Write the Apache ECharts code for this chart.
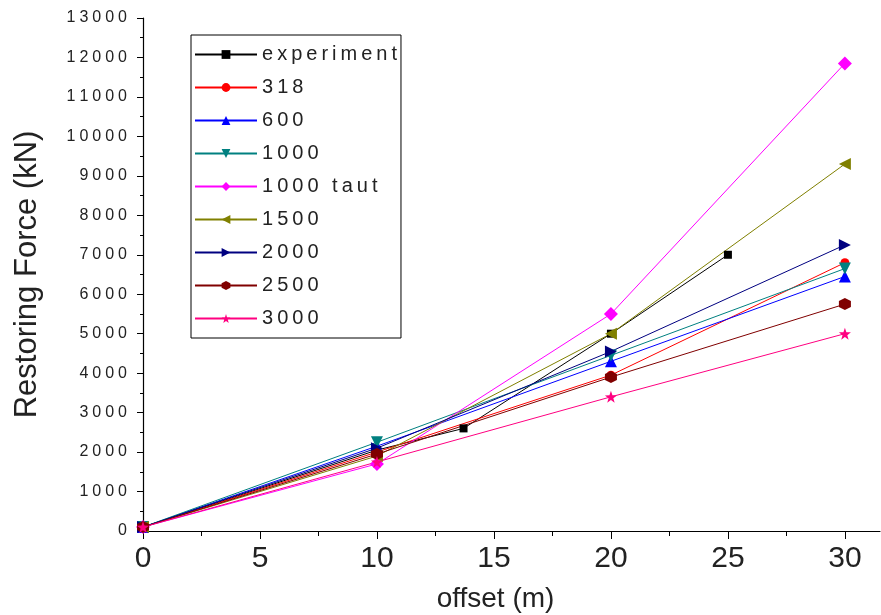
<!DOCTYPE html>
<html>
<head>
<meta charset="utf-8">
<script src="https://cdn.jsdelivr.net/npm/echarts@6/dist/echarts.min.js"></script>
<style>
  html, body { margin: 0; padding: 0; background: #fff; }
  #chart { width: 881px; height: 615px; }
</style>
</head>
<body>
<div id="chart"></div>
<script>
// Offsets (m) at which the model cases were evaluated
const offsets = [0, 10, 20, 30];

// Measured restoring force
const expOffsets = [0, 10, 13.7, 20, 25];
const expForce = [100, 2050, 2600, 5000, 7000];

// Restoring force (kN) for each case
const force318 = [100, 2000, 3950, 6800];
const force600 = [100, 2150, 4300, 6450];
const force1000 = [100, 2250, 4450, 6650];
const force1000Taut = [100, 1700, 5500, 11850];
const force1500 = [100, 1900, 5000, 9300];
const force2000 = [100, 2100, 4550, 7250];
const force2500 = [100, 1950, 3900, 5750];
const force3000 = [100, 1750, 3400, 5000];

const seriesNames = ['experiment', '318', '600', '1000', '1000 taut', '1500', '2000', '2500', '3000'];
const xTickValues = [0, 5, 10, 15, 20, 25, 30];
const xMinorTickValues = [2.5, 7.5, 12.5, 17.5, 22.5, 27.5];

const hexagon = 'path://M0,-10L8.66,-5L8.66,5L0,10L-8.66,5L-8.66,-5Z';
const star = 'path://M0,-10L2.35,-3.24L9.51,-3.09L3.8,1.24L5.88,8.09L0,4L-5.88,8.09L-3.8,1.24L-9.51,-3.09L-2.35,-3.24Z';

function pairs(xs, ys) { return xs.map((x, i) => [x, ys[i]]); }

const styles = [
  { color: '#000000', symbol: 'rect', size: 8, rotate: 0 },
  { color: '#FF0000', symbol: 'circle', size: 9, rotate: 0 },
  { color: '#0000FF', symbol: 'triangle', size: 12, rotate: 0 },
  { color: '#008080', symbol: 'triangle', size: 12, rotate: 180 },
  { color: '#FF00FF', symbol: 'diamond', size: 14, rotate: 0 },
  { color: '#808000', symbol: 'triangle', size: 12, rotate: 90 },
  { color: '#000080', symbol: 'triangle', size: 12, rotate: -90 },
  { color: '#800000', symbol: hexagon, size: 12, rotate: 0 },
  { color: '#FF0080', symbol: star, size: 12, rotate: 0 }
];

const dataSets = [
  pairs(expOffsets, expForce),
  pairs(offsets, force318),
  pairs(offsets, force600),
  pairs(offsets, force1000),
  pairs(offsets, force1000Taut),
  pairs(offsets, force1500),
  pairs(offsets, force2000),
  pairs(offsets, force2500),
  pairs(offsets, force3000)
];

const spaced = (s, gap) => String(s).split('').join(gap);
const black = '#000';
const font = 'Liberation Sans, Arial, sans-serif';

const chart = echarts.init(document.getElementById('chart'));
chart.setOption({
  animation: false,
  backgroundColor: '#fff',
  grid: { left: 143, top: 18, right: 1, bottom: 84, containLabel: false, outerBoundsMode: 'none' },
  legend: {
    orient: 'vertical',
    left: 191,
    top: 35,
    padding: [8, 4, 8, 3],
    itemGap: 10,
    itemWidth: 62,
    itemHeight: 11,
    borderColor: black,
    borderWidth: 1,
    backgroundColor: '#fff',
    data: seriesNames,
    formatter: name => spaced(name, '\u2009'),
    textStyle: { fontFamily: font, fontSize: 20, color: '#222', lineHeight: 23 }
  },
  xAxis: [
    {
      type: 'value', min: 0, max: 31.5, interval: 5,
      name: 'offset (m)', nameLocation: 'middle', nameGap: 54,
      nameTextStyle: { fontFamily: font, fontSize: 28, color: '#222', padding: [0, 32, 0, 0] },
      axisLine: { lineStyle: { color: black, width: 1.2 } },
      axisTick: { show: true, inside: false, length: 8, customValues: xTickValues, lineStyle: { color: black } },
      axisLabel: { customValues: xTickValues, margin: 13, fontFamily: font, fontSize: 30, color: '#222' },
      splitLine: { show: false }
    },
    {
      type: 'value', min: 0, max: 31.5, interval: 5, position: 'bottom',
      axisLine: { show: false },
      axisTick: { show: true, inside: false, length: 5, customValues: xMinorTickValues, lineStyle: { color: black } },
      axisLabel: { show: false },
      splitLine: { show: false }
    }
  ],
  yAxis: {
    type: 'value', min: 0, max: 13000, interval: 1000,
    name: 'Restoring Force (kN)', nameLocation: 'middle', nameGap: 100,
    nameTextStyle: { fontFamily: font, fontSize: 31, color: '#222' },
    axisLine: { show: true, lineStyle: { color: black, width: 1.2 } },
    axisTick: { show: true, inside: false, length: 6, lineStyle: { color: black } },
    minorTick: { show: true, splitNumber: 2, length: 3, lineStyle: { color: black } },
    axisLabel: { margin: 16, formatter: v => spaced(v, '\u2005'), fontFamily: font, fontSize: 16, color: '#222' },
    splitLine: { show: false }
  },
  series: seriesNames.map((name, i) => ({
    name: name,
    type: 'line',
    xAxisIndex: 0,
    data: dataSets[i],
    symbol: styles[i].symbol,
    symbolSize: styles[i].size,
    symbolRotate: styles[i].rotate,
    showAllSymbol: true,
    color: styles[i].color,
    itemStyle: { color: styles[i].color, borderWidth: 0 },
    lineStyle: { color: styles[i].color, width: 1 },
    emphasis: { disabled: true }
  }))
});
</script>
</body>
</html>
